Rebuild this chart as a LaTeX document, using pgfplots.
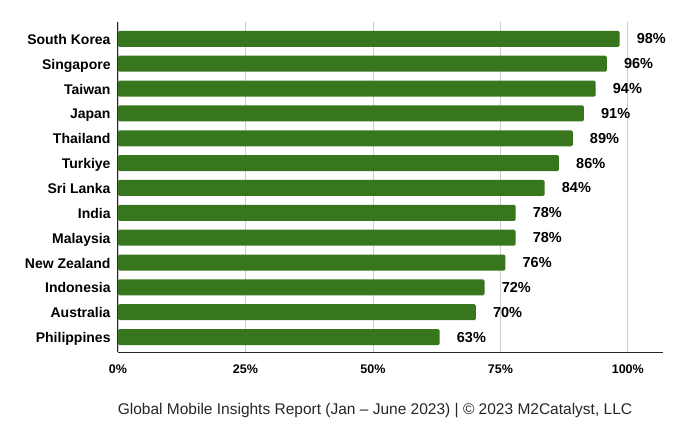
\documentclass[border=0pt]{standalone}
\usepackage{pgfplots}
\pgfplotsset{compat=1.18}
\usepackage{pgfplotstable}
\usepackage{fontspec}
\setmainfont{Liberation Sans}
\definecolor{bargreen}{HTML}{38761D}
\definecolor{gridgray}{HTML}{CCCCCC}
\pgfplotstableread{
x y lab
98.4 0 98
95.9 1 96
93.7 2 94
91.4 3 91
89.2 4 89
86.5 5 86
83.7 6 84
78.0 7 78
78.0 8 78
76.0 9 76
71.9 10 72
70.2 11 70
63.1 12 63
}\datatable
\begin{document}
\begin{tikzpicture}
\path[use as bounding box] (-118pt,-90pt) rectangle (568pt,352pt);
\begin{axis}[
  at={(0,0)}, anchor=south west,
  scale only axis, width=545pt, height=330pt,
  xbar, bar width=16pt,
  xmin=0, xmax=106.9,
  ymin=-0.68, ymax=12.6, y dir=reverse,
  ytick={0,...,12},
  yticklabels={South Korea,Singapore,Taiwan,Japan,Thailand,Turkiye,Sri Lanka,India,Malaysia,New Zealand,Indonesia,Australia,Philippines},
  xtick={0,25,50,75,100},
  xticklabel={\pgfmathprintnumber{\tick}\%},
  /pgf/number format/assume math mode=true,
  xmajorgrids,
  major grid style={gridgray, line width=0.8pt},
  axis x line*=bottom, axis y line*=left,
  axis line style={-, black!85, line width=1pt},
  tick style={draw=none},
  yticklabel style={font=\bfseries\fontsize{14}{15}\selectfont, anchor=east, text height=10pt, text depth=3pt, inner sep=0pt, xshift=-3pt, yshift=-2pt},
  xticklabel style={font=\bfseries\fontsize{12.5}{13}\selectfont, anchor=center, yshift=-17pt, inner sep=0pt},
  nodes near coords={\pgfmathprintnumber{\pgfplotspointmeta}\%},
  point meta=explicit,
  nodes near coords style={anchor=west, inner sep=0pt, xshift=17pt, font=\bfseries\fontsize{14.5}{15}\selectfont, /pgf/number format/assume math mode=true},
  clip=false,
]
\addplot[fill=bargreen, draw=none, rounded corners=1.5pt] table[x=x, y=y, meta=lab] {\datatable};
\end{axis}
\node[font=\fontsize{15.5}{17}\selectfont, text=black!85] at (257pt,-59pt) {Global Mobile Insights Report (Jan – June 2023) | © 2023 M2Catalyst, LLC};
\end{tikzpicture}
\end{document}
